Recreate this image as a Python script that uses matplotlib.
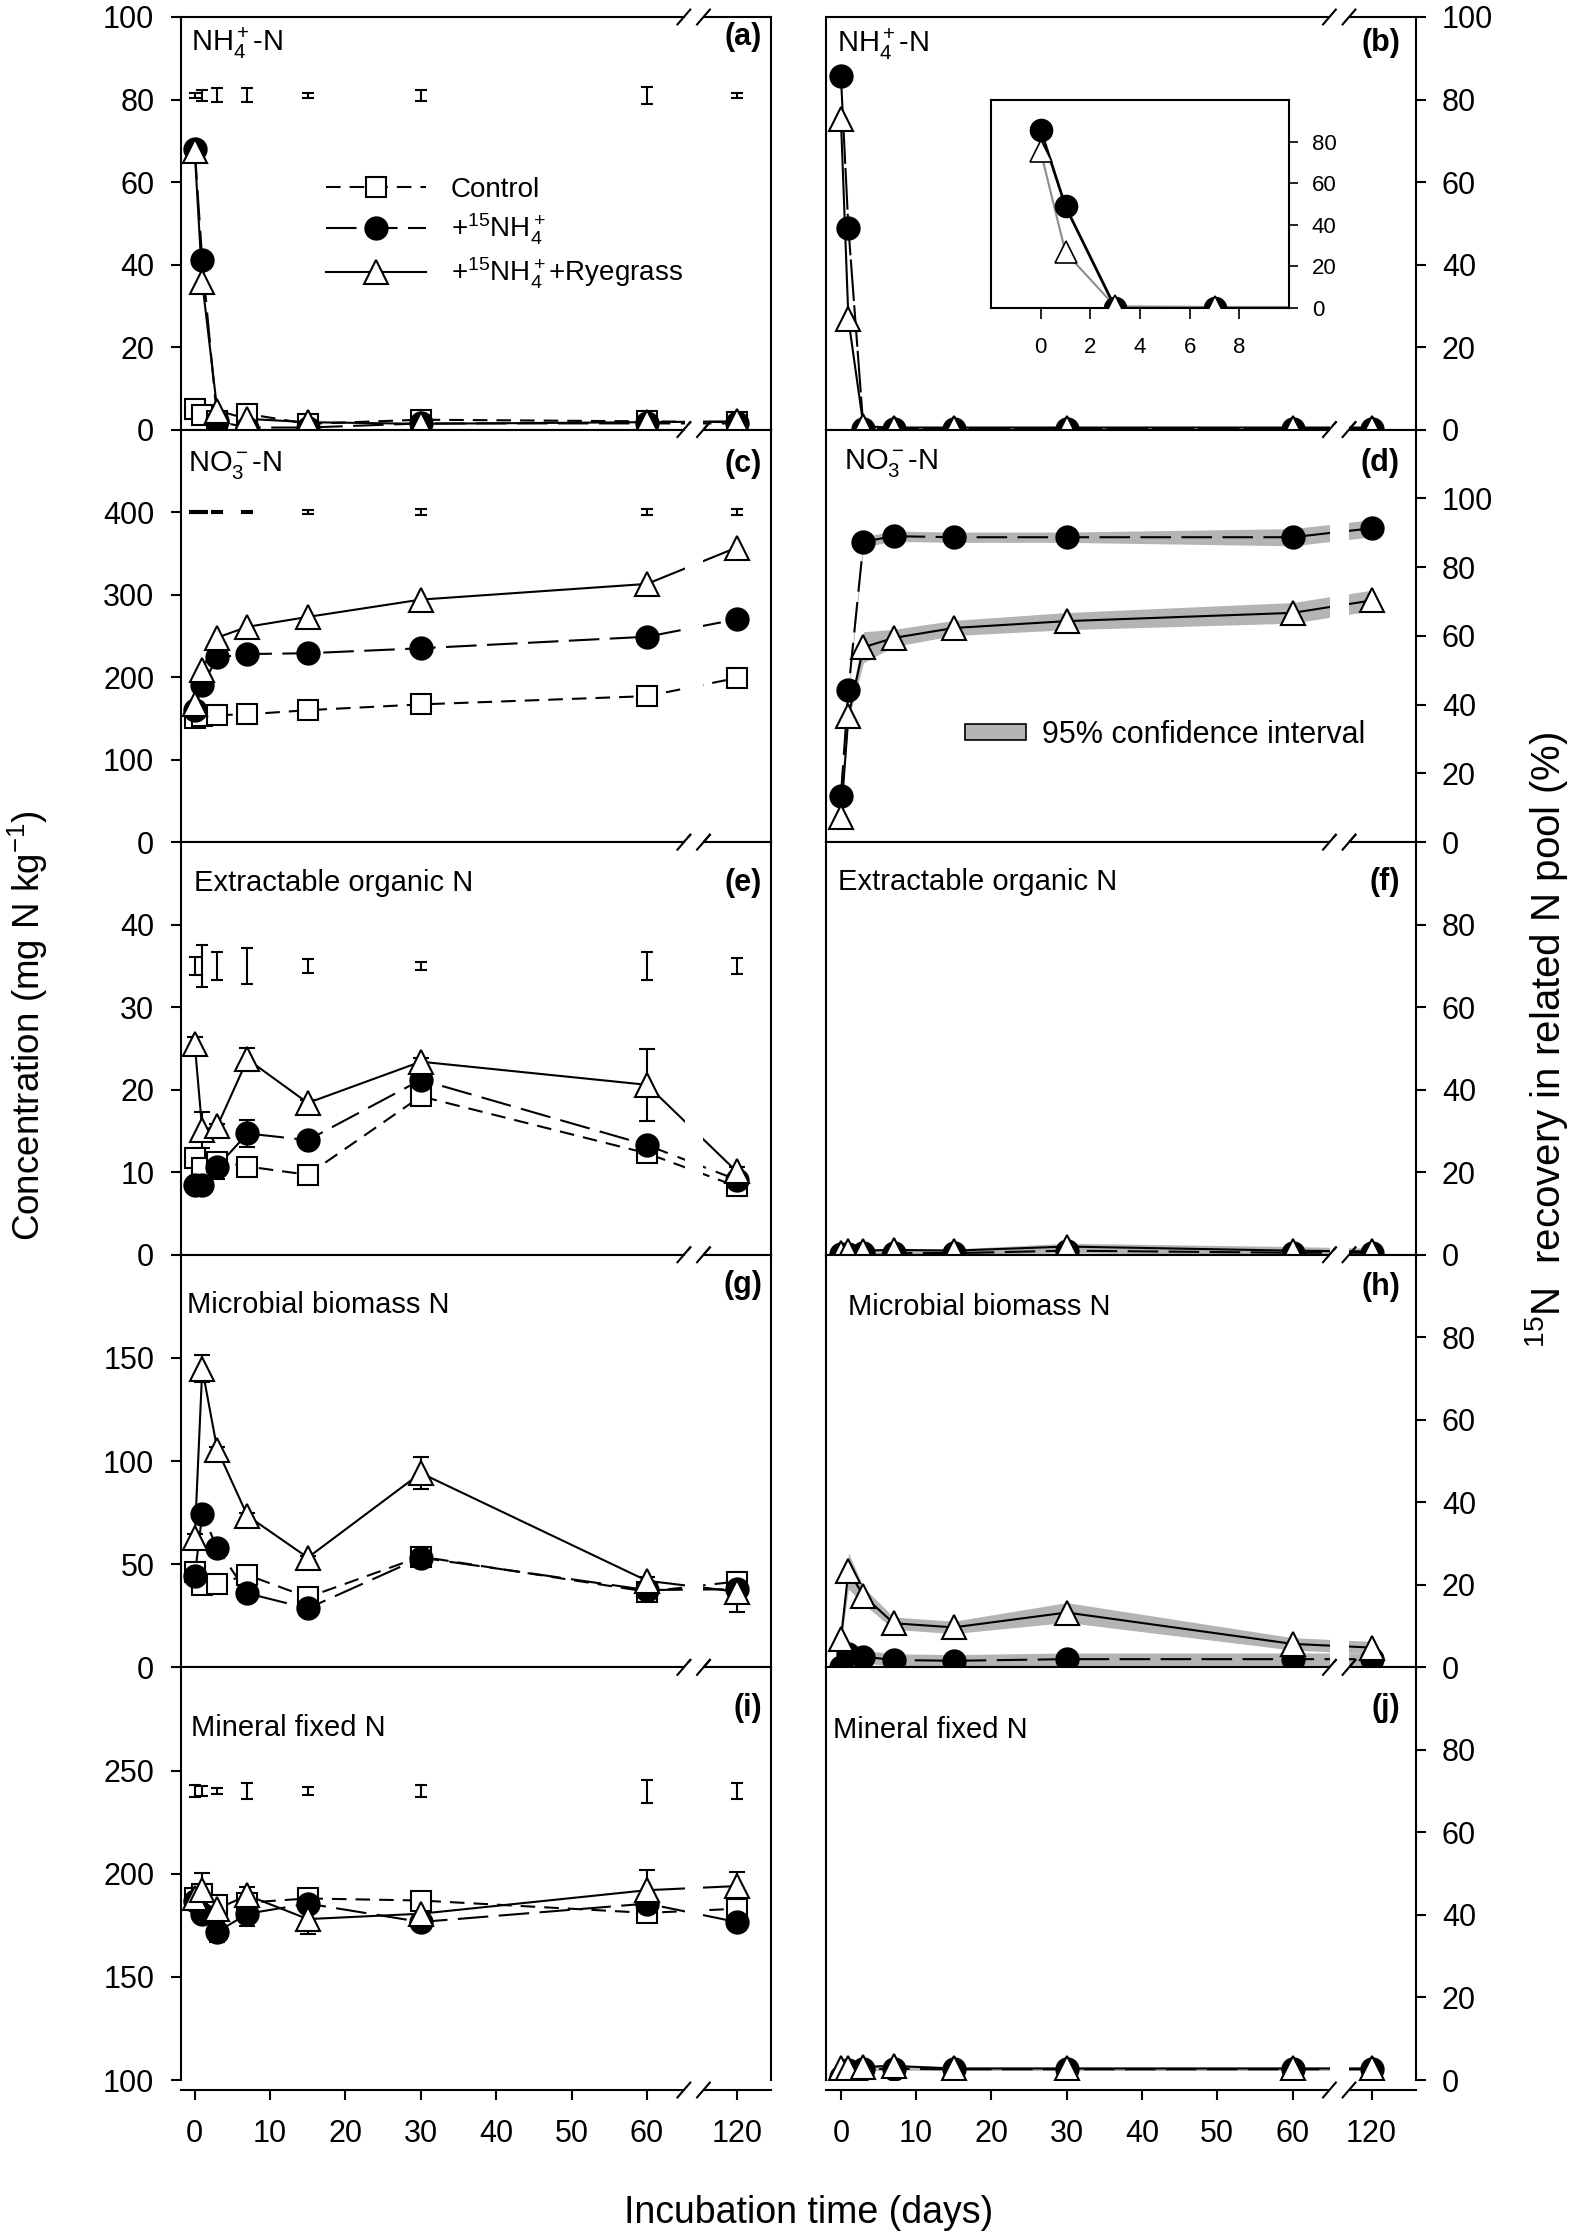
import numpy as np
import matplotlib
matplotlib.use("Agg")
import matplotlib.pyplot as plt
from matplotlib.lines import Line2D
from matplotlib.patches import Patch

plt.rcParams["font.family"] = ["Liberation Sans", "DejaVu Sans"]
plt.rcParams["mathtext.fontset"] = "custom"
plt.rcParams["mathtext.rm"] = "Liberation Sans"
plt.rcParams["mathtext.it"] = "Liberation Sans:italic"
plt.rcParams["mathtext.bf"] = "Liberation Sans:bold"
plt.rcParams["lines.scale_dashes"] = False

# ---- data -------------------------------------------------------------
days = [0, 1, 3, 7, 15, 30, 60, 120]
x_ticks = [0, 10, 20, 30, 40, 50, 60, 120]

# left column: concentration (mg N kg-1)
a_ctrl = [5.0, 3.5, 2.0, 3.8, 1.4, 2.4, 2.0, 1.8]
a_nh4 = [68.0, 41.0, 2.0, 0.5, 0.5, 1.5, 1.5, 1.5]
a_rye = [67.5, 35.7, 4.6, 2.6, 1.8, 1.4, 1.8, 2.0]
a_lsd = [0.7, 1.4, 1.7, 1.7, 0.6, 1.4, 2.1, 0.6]

c_ctrl = [151, 153, 154, 155, 160, 167, 177, 199]
c_nh4 = [160, 190, 224, 228, 229, 235, 249, 270]
c_rye = [168, 209, 248, 261, 273, 294, 313, 357]
c_lsd = [1.5, 1.5, 1.5, 1.5, 2, 4, 4, 4]

e_ctrl = [11.7, 10.5, 11.3, 10.7, 9.7, 19.2, 12.3, 8.3]
e_nh4 = [8.5, 8.5, 10.7, 14.7, 13.9, 21.2, 13.3, 9.1]
e_rye = [25.6, 15.1, 15.6, 23.7, 18.4, 23.4, 20.6, 10.1]
e_ctrl_se = [0.5, 0.5, 0.5, 0.4, 0.4, 0.5, 0.5, 0.3]
e_nh4_se = [0.3, 0.3, 1.5, 1.6, 0.5, 0.5, 0.5, 0.3]
e_rye_se = [0.8, 2.2, 0.3, 1.4, 0.3, 0.5, 4.4, 0.5]
e_lsd = [1.1, 2.5, 1.7, 2.2, 0.9, 0.45, 1.7, 1.0]

g_ctrl = [46.4, 40.0, 40.5, 44.8, 34.0, 53.7, 36.7, 41.6]
g_nh4 = [44.3, 74.3, 57.8, 35.9, 28.6, 53.2, 37.5, 37.9]
g_rye = [62.6, 144.7, 105.5, 73.5, 53.2, 94.2, 42.0, 36.7]
g_ctrl_se = [1.5, 1, 1, 1.5, 1, 1, 1, 2]
g_nh4_se = [1, 1, 1, 1, 1, 1, 1, 1]
g_rye_se = [2, 6.5, 1.5, 1.5, 1, 7.8, 2, 9.7]

i_ctrl = [188, 190, 185, 186, 188, 187, 181, 183]
i_nh4 = [187, 180.6, 171.8, 180.6, 185.5, 176.6, 185.5, 176.6]
i_rye = [188, 192, 183, 189.5, 178, 180.6, 192, 194]
i_ctrl_se = [2, 3, 2, 2, 2, 2, 3, 3]
i_nh4_se = [2, 3, 5, 6, 2, 2, 3, 2]
i_rye_se = [3, 8.5, 2, 4, 7, 2, 10, 7]
i_lsd = [3, 2.5, 1.5, 4, 2, 3, 5.6, 4]

# right column: 15N recovery (%)
b_nh4 = [85.6, 48.8, 0.2, 0.2, 0.2, 0.2, 0.2, 0.2]
b_rye = [75.3, 26.7, 0.8, 0.5, 0.5, 0.5, 0.5, 0.5]

d_nh4 = [13.5, 44.4, 87.4, 89.0, 88.7, 88.7, 88.7, 91.3]
d_rye = [7.2, 36.7, 56.7, 59.4, 62.3, 64.3, 66.7, 70.3]
d_nh4_ci = [0.5, 1.0, 1.5, 1.5, 1.5, 1.5, 2.5, 2.5]
d_rye_ci = [0.5, 1.0, 4.5, 2.5, 2.2, 2.5, 3.0, 3.0]

f_nh4 = [0.2, 0.3, 0.4, 0.5, 0.4, 1.0, 0.5, 0.5]
f_rye = [0.5, 0.8, 1.0, 1.2, 1.0, 2.0, 1.0, 0.8]
f_nh4_ci = [0.3, 0.3, 0.3, 0.3, 0.3, 0.5, 0.5, 0.5]
f_rye_ci = [0.4, 0.4, 0.4, 0.4, 0.4, 0.8, 1.0, 0.8]

h_nh4 = [0.0, 3.2, 2.6, 1.8, 1.6, 2.0, 2.0, 2.0]
h_rye = [6.9, 23.4, 17.4, 10.7, 9.7, 13.3, 5.7, 4.8]
h_nh4_ci = [0.8, 1.5, 1.5, 1.5, 1.5, 1.5, 1.5, 1.5]
h_rye_ci = [1.0, 4.4, 2.0, 1.5, 1.5, 2.4, 1.5, 1.5]

j_nh4 = [0.8, 2.5, 2.6, 2.7, 2.6, 2.6, 2.6, 2.6]
j_rye = [2.8, 2.8, 3.2, 3.4, 2.8, 2.8, 2.8, 2.8]
j_nh4_ci = [0.3, 0.3, 0.3, 0.3, 0.3, 0.3, 0.3, 0.3]
j_rye_ci = [0.3, 0.3, 0.3, 0.3, 0.3, 0.3, 0.3, 0.3]

labels = ["Control", r"+$^{15}$NH$_4^+$", r"+$^{15}$NH$_4^+$+Ryegrass"]

# ---- layout -----------------------------------------------------------
W, H = 1575, 2237
fig = plt.figure(figsize=(W / 100, H / 100), dpi=100)

col_x = [181, 826]
col_w = 590
row_top = 17
row_h = 412.6
p120 = [71.9, 70.5]
p_left = [-1.82, -1.98]
p_right = [76.46, 76.4]

ctrl_st = dict(marker="s", mfc="white", ms=14, dashes=(10.5, 6.5))
nh4_st = dict(marker="o", mfc="black", ms=16, dashes=(22, 7.5))
rye_st = dict(marker="^", mfc="white", ms=17, ls="-")


def make_scale(pp):
    k = (pp - 65.0) / 55.0

    def fwd(d):
        d = np.asarray(d, dtype=float)
        return np.where(d <= 65, d, 65 + (d - 65) * k)

    def inv(p):
        p = np.asarray(p, dtype=float)
        return np.where(p <= 65, p, 65 + (p - 65) / k)
    return fwd, inv


def add_panel(row, col, ylim, yticks, title, letter, t_off, l_off, t_x):
    left = col_x[col] / W
    bottom = 1 - (row_top + row_h * (row + 1)) / H
    ax = fig.add_axes([left, bottom, col_w / W, row_h / H])
    fwd, inv = make_scale(p120[col])
    ax.set_xscale("function", functions=(fwd, inv))
    ax.set_xlim(float(inv(p_left[col])), float(inv(p_right[col])))
    ax.set_ylim(*ylim)
    ax.set_xticks(x_ticks)
    ax.set_xticklabels([str(t) for t in x_ticks])
    ax.minorticks_off()
    ax.set_yticks(yticks)
    ax.set_yticklabels([str(t) for t in yticks])
    for s in ax.spines.values():
        s.set_linewidth(1.5)
    ax.xaxis.tick_bottom()
    if col == 0:
        ax.yaxis.tick_left()
        ypad = 12
    else:
        ax.yaxis.tick_right()
        ypad = 11.5
    ax.tick_params(axis="y", direction="out", length=7.2, width=1.5,
                   labelsize=22, pad=ypad)
    ax.tick_params(axis="x", direction="out", length=7.2, width=1.5,
                   labelsize=22, pad=14, labelbottom=(row == 4))
    if row == 4:
        ax.spines["bottom"].set_position(("outward", 7.2))

    # axis break: white gap and // marks
    ax.axvspan(float(inv(65.0)), float(inv(67.5)), ymin=-0.035, ymax=1.01,
               color="white", zorder=3, clip_on=False, lw=0)
    ybot = -10 / row_h if row == 4 else 0.0
    for yc in (ybot, 1.0):
        for pc in (64.9, 67.5):
            ax.plot([float(inv(pc - 0.85)), float(inv(pc + 0.85))],
                    [yc - 0.018, yc + 0.018], color="k", lw=1.5,
                    transform=ax.get_xaxis_transform(), clip_on=False,
                    zorder=5)

    ax.text((t_x - col_x[col]) / col_w, 1 - t_off / row_h, title,
            transform=ax.transAxes, ha="left", va="center", fontsize=21)
    lx = 762 if col == 0 else 1400
    ax.text((lx - col_x[col]) / col_w, 1 - l_off / row_h, letter,
            transform=ax.transAxes, ha="right", va="center", fontsize=22,
            fontweight="bold")
    return ax


def draw(ax, vals, st, se=None, ci=None):
    ls = st.get("ls", None)
    kw = dict(color="k", lw=1.5, zorder=2)
    if ls is None:
        kw["dashes"] = st["dashes"]
    else:
        kw["ls"] = ls
    ax.plot(days, vals, **kw)
    if ci is not None:
        lo = np.array(vals) - np.array(ci)
        hi = np.array(vals) + np.array(ci)
        ax.fill_between(days, lo, hi, color="#b4b4b4", lw=0, zorder=1.5)
    if se is not None:
        ax.errorbar(days, vals, yerr=se, fmt="none", ecolor="k",
                    elinewidth=1.5, capsize=6, capthick=1.5, zorder=3.2)
    ax.plot(days, vals, ls="none", marker=st["marker"], mfc=st["mfc"],
            mec="k", ms=st["ms"], mew=1.5, zorder=4)


def lsd(ax, level, half):
    ax.errorbar(days, [level] * len(days), yerr=half, fmt="none",
                ecolor="k", elinewidth=1.5, capsize=4.5, capthick=1.5,
                zorder=3.2)


nh4_t = r"NH$_4^+$-N"
no3_t = r"NO$_3^-$-N"

# ---- left column ------------------------------------------------------
ax = add_panel(0, 0, (0, 100), [0, 20, 40, 60, 80, 100], nh4_t, "(a)", 26, 20, 191)
lsd(ax, 81, a_lsd)
draw(ax, a_ctrl, ctrl_st)
draw(ax, a_nh4, nh4_st)
draw(ax, a_rye, rye_st)
handles = []
for st in (ctrl_st, nh4_st, rye_st):
    kw = dict(color="k", lw=1.5, marker=st["marker"], mfc=st["mfc"],
              mec="k", ms=st["ms"], mew=1.5)
    if "dashes" in st:
        kw["dashes"] = st["dashes"]
    handles.append(Line2D([], [], **kw))
ax.legend(handles, labels, loc="center left", bbox_to_anchor=(0.2458, 0.474),
          frameon=False, fontsize=20, handlelength=3.6, handletextpad=0.9,
          labelspacing=0.33, borderpad=0, borderaxespad=0)

ax = add_panel(1, 0, (0, 500), [0, 100, 200, 300, 400], no3_t, "(c)", 35, 34, 188)
lsd(ax, 400, c_lsd)
draw(ax, c_ctrl, ctrl_st)
draw(ax, c_nh4, nh4_st)
draw(ax, c_rye, rye_st)

ax = add_panel(2, 0, (0, 50), [0, 10, 20, 30, 40], "Extractable organic N", "(e)", 41, 41, 194)
lsd(ax, 35, e_lsd)
draw(ax, e_ctrl, ctrl_st, se=e_ctrl_se)
draw(ax, e_nh4, nh4_st, se=e_nh4_se)
draw(ax, e_rye, rye_st, se=e_rye_se)

ax = add_panel(3, 0, (0, 200), [0, 50, 100, 150], "Microbial biomass N", "(g)", 50, 30, 187)
draw(ax, g_ctrl, ctrl_st, se=g_ctrl_se)
draw(ax, g_nh4, nh4_st, se=g_nh4_se)
draw(ax, g_rye, rye_st, se=g_rye_se)

ax = add_panel(4, 0, (100, 300), [100, 150, 200, 250], "Mineral fixed N", "(i)", 61, 41, 191)
lsd(ax, 240, i_lsd)
draw(ax, i_ctrl, ctrl_st, se=i_ctrl_se)
draw(ax, i_nh4, nh4_st, se=i_nh4_se)
draw(ax, i_rye, rye_st, se=i_rye_se)

# ---- right column -----------------------------------------------------
ax = add_panel(0, 1, (0, 100), [0, 20, 40, 60, 80, 100], nh4_t, "(b)", 27, 26, 837)
draw(ax, b_nh4, dict(nh4_st, dashes=(30, 3)))
draw(ax, b_rye, rye_st)

ax = add_panel(1, 1, (0, 120), [0, 20, 40, 60, 80, 100], no3_t, "(d)", 33, 33, 844)
draw(ax, d_nh4, nh4_st, ci=d_nh4_ci)
draw(ax, d_rye, rye_st, ci=d_rye_ci)
ax.legend([Patch(facecolor="#b4b4b4", edgecolor="k", lw=1.2)],
          ["95% confidence interval"], loc="center left",
          bbox_to_anchor=((965 - 826) / col_w, 1 - (735 - 429.5) / row_h),
          frameon=False, fontsize=22, handlelength=2.0, handleheight=0.43,
          handletextpad=0.52, borderpad=0, borderaxespad=0)

ax = add_panel(2, 1, (0, 100), [0, 20, 40, 60, 80], "Extractable organic N", "(f)", 40, 40, 838)
draw(ax, f_nh4, nh4_st, ci=f_nh4_ci)
draw(ax, f_rye, rye_st, ci=f_rye_ci)

ax = add_panel(3, 1, (0, 100), [0, 20, 40, 60, 80], "Microbial biomass N", "(h)", 52, 32, 848)
draw(ax, h_nh4, nh4_st, ci=h_nh4_ci)
draw(ax, h_rye, rye_st, ci=h_rye_ci)

ax = add_panel(4, 1, (0, 100), [0, 20, 40, 60, 80], "Mineral fixed N", "(j)", 63, 41, 833)
draw(ax, j_nh4, nh4_st, ci=j_nh4_ci)
draw(ax, j_rye, rye_st, ci=j_rye_ci)

# ---- inset in (b) -----------------------------------------------------
ax_in = fig.add_axes([991 / W, 1 - 308 / H, 298 / W, 208 / H])
ax_in.plot(days, b_nh4, "-", color="k", lw=2, zorder=2)
ax_in.plot(days, b_rye, "-", color="0.55", lw=1.5, zorder=2)
ax_in.plot(days, b_nh4, ls="none", marker="o", mfc="k", mec="k", ms=16, zorder=4)
ax_in.plot(days, b_rye, ls="none", marker="^", mfc="white", mec="k", ms=16,
           mew=1.2, zorder=5)
ax_in.set_xlim(-2, 10)
ax_in.set_ylim(0, 100)
ax_in.set_xticks([0, 2, 4, 6, 8])
ax_in.set_yticks([0, 20, 40, 60, 80])
ax_in.yaxis.tick_right()
ax_in.xaxis.tick_bottom()
for s in ax_in.spines.values():
    s.set_linewidth(1.5)
ax_in.tick_params(axis="x", direction="out", length=8, width=1.2,
                  labelsize=16, pad=13)
ax_in.tick_params(axis="y", direction="out", length=6.5, width=1.2,
                  labelsize=16, pad=10)

# ---- axis titles ------------------------------------------------------
fig.text(28 / W, 1 - 1026 / H, r"Concentration (mg N kg$^{-1}$)",
         rotation=90, ha="center", va="center", fontsize=26.5)
fig.text(1547 / W, 1 - 1040 / H, r"$^{15}$N  recovery in related N pool (%)",
         rotation=90, ha="center", va="center", fontsize=29)
fig.text(809 / W, 1 - 2213 / H, "Incubation time (days)",
         ha="center", va="center", fontsize=27)

fig.savefig("out.png", dpi=100)
